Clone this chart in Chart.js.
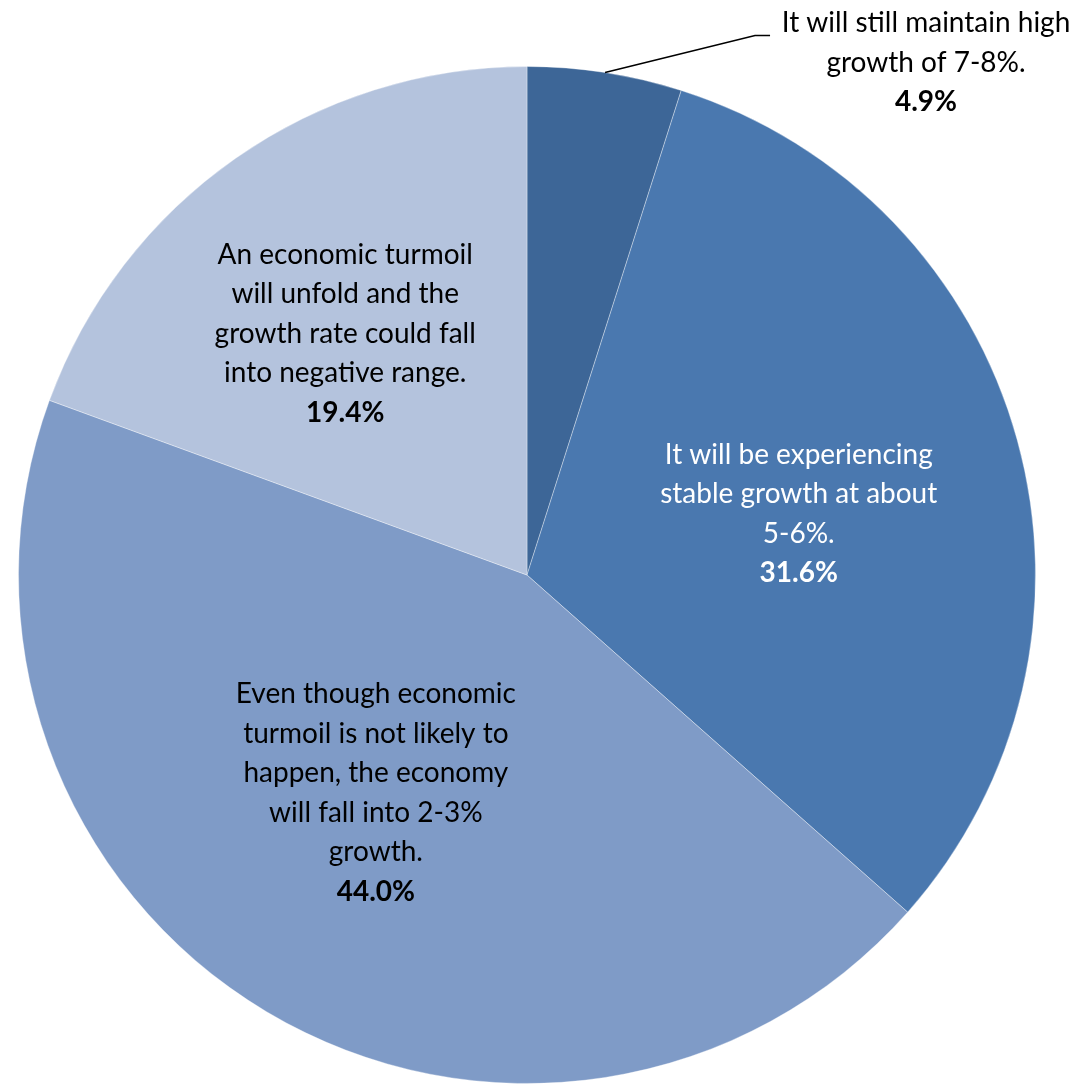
<!DOCTYPE html>
<html>
<head>
<meta charset="utf-8">
<script src="https://cdn.jsdelivr.net/npm/chart.js@4"></script>
<style>
  body { margin: 0; background: #fff; }
  #wrap { width: 1085px; height: 1085px; }
</style>
</head>
<body>
<div id="wrap"><canvas id="pie" width="1085" height="1085"></canvas></div>
<script>
// survey answers, clockwise from 12 o'clock
var labels = [
    ["It will still maintain high", "growth of 7-8%."],
    ["It will be experiencing", "stable growth at about", "5-6%."],
    ["Even though economic", "turmoil is not likely to", "happen, the economy", "will fall into 2-3%", "growth."],
    ["An economic turmoil", "will unfold and the", "growth rate could fall", "into negative range."]
];
var values = [4.9, 31.6, 44.0, 19.4];
var colors = ["#3D6697", "#4A78AF", "#7F9BC7", "#B4C3DD"];
var textColors = ["#000", "#fff", "#000", "#000"];

var FONT = "Lato, 'Open Sans', sans-serif";

// label placement: fraction of radius from centre (inside) or outside w/ leader
var labelPos = [
    { outside: true, dx: 150, dy: -37 },
    { r: 0.54, ox: 7, oy: 12 },
    { r: 0.515, ox: -17, oy: -7 },
    { r: 0.60, ox: -7, oy: 9 }
];

var labelPlugin = {
    id: "sliceLabels",
    afterDatasetsDraw: function (chart) {
        var ctx = chart.ctx;
        var meta = chart.getDatasetMeta(0);
        var lh = 39.5;
        meta.data.forEach(function (arc, i) {
            var mid = (arc.startAngle + arc.endAngle) / 2;
            var lines = labels[i];
            var pct = values[i].toFixed(1) + "%";
            var cx, cy;
            ctx.save();
            if (labelPos[i].outside) {
                var ex = arc.x + Math.cos(mid) * arc.outerRadius;
                var ey = arc.y + Math.sin(mid) * arc.outerRadius;
                var kx = ex + labelPos[i].dx, ky = ey + labelPos[i].dy;
                ctx.strokeStyle = "#000";
                ctx.lineWidth = 1.5;
                ctx.beginPath();
                ctx.moveTo(ex, ey);
                ctx.lineTo(kx, ky);
                ctx.lineTo(kx + 15, ky);
                ctx.stroke();
                cx = 926;
                cy = ky + 27;
            } else {
                var rr = arc.outerRadius * labelPos[i].r;
                cx = arc.x + Math.cos(mid) * rr + labelPos[i].ox;
                cy = arc.y + Math.sin(mid) * rr + labelPos[i].oy;
            }
            var total = lines.length + 1;
            var y0 = cy - (total - 1) * lh / 2;
            ctx.fillStyle = textColors[i];
            ctx.textAlign = "center";
            ctx.textBaseline = "middle";
            ctx.font = "28px " + FONT;
            lines.forEach(function (t, k) {
                ctx.fillText(t, cx, y0 + k * lh);
            });
            ctx.font = "bold 28px " + FONT;
            ctx.fillText(pct, cx, y0 + lines.length * lh);
            ctx.restore();
        });
    }
};

new Chart("pie", {
    type: "pie",
    data: {
        labels: labels.map(function (l) { return l.join(" "); }),
        datasets: [{
            data: values,
            backgroundColor: colors,
            borderColor: "rgba(255,255,255,0.35)",
            borderWidth: 1
        }]
    },
    options: {
        responsive: false,
        animation: false,
        layout: { padding: { left: 18, right: 49, top: 66, bottom: 1 } },
        plugins: {
            legend: { display: false },
            tooltip: { enabled: false }
        }
    },
    plugins: [labelPlugin]
});
</script>
</body>
</html>
